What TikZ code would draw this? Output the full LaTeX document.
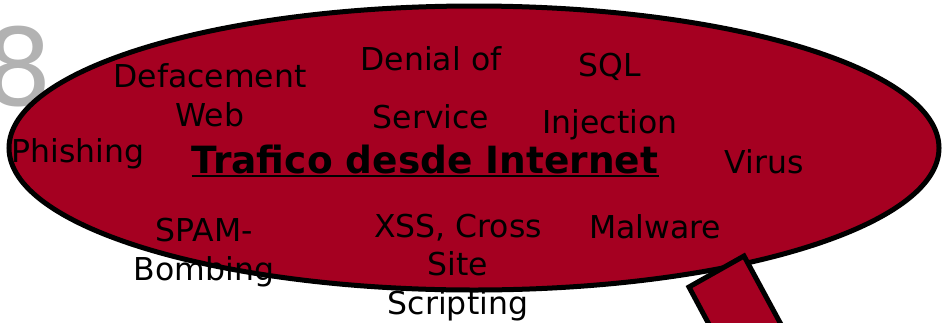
\documentclass[tikz,border=0pt]{standalone}
\usepackage{fontspec}
\setmainfont{DejaVu Sans}
\definecolor{bubble}{RGB}{165,0,33}
\definecolor{digitgray}{RGB}{178,178,178}
\begin{document}
\begin{tikzpicture}[x=1pt,y=-1pt,
  lbl/.style={inner sep=0pt, anchor=base, align=center,
    font=\fontsize{31.5}{38.5}\selectfont, text=black},
  outline/.style={draw=black, line width=5pt, fill=bubble, line join=miter}
]
\useasboundingbox (0,0) rectangle (942,322);
\clip (0,0) rectangle (942,322);
\node[anchor=base west, inner sep=0pt, text=digitgray,
  font=\fontsize{107}{107}\selectfont] (eight) at (-16,105) {8};
\draw[outline] (474,148) ellipse [x radius=465pt, y radius=142pt];
\draw[outline] (689,287) -- (744,256) -- (784,330) -- (712,330) -- cycle;
\node[lbl] (deface) at (210,126) {Defacement\\Web};
\node[lbl] (dos) at (431,128) {Denial of\\[19pt]Service};
\node[lbl] (sql) at (610,133) {SQL\\[18pt]Injection};
\node[lbl] (phish) at (78,162) {Phishing};
\node[lbl, font=\fontsize{37.5}{45}\selectfont\bfseries] (traf) at (425,173) {Trafico desde Internet};
\draw[line width=2pt] ([yshift=-3pt]traf.base west) -- ([yshift=-3pt]traf.base east);
\node[lbl] (virus) at (764,173) {Virus};
\node[lbl] (spam) at (204,280) {SPAM-\\Bombing};
\node[lbl] (xss) at (458,314) {XSS, Cross\\Site\\Scripting};
\node[lbl] (mal) at (655,238) {Malware};
\end{tikzpicture}
\end{document}
